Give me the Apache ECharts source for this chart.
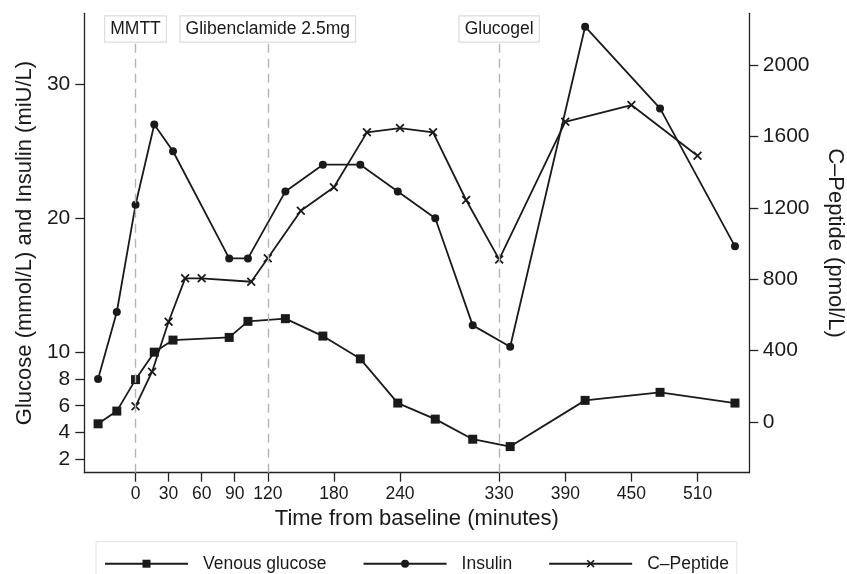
<!DOCTYPE html>
<html>
<head>
<meta charset="utf-8">
<script src="https://cdn.jsdelivr.net/npm/echarts@6/dist/echarts.min.js"></script>
<style>
  html, body { margin: 0; padding: 0; background: #fff; }
  #chart { width: 847px; height: 574px; }
</style>
</head>
<body>
<div id="chart"></div>
<script>
// ---- Data ----
const sampleTimes   = [-34, -17, 0, 17, 34, 85, 102, 136, 170, 204, 238, 272, 306, 340, 408, 476, 544];
const venousGlucose = [4.65, 5.6, 7.95, 10.0, 10.9, 11.1, 12.3, 12.5, 11.2, 9.5, 6.2, 5.0, 3.5, 2.95, 6.4, 7.0, 6.2];
const insulin       = [8.0, 13.0, 21.0, 27.0, 25.0, 17.0, 17.0, 22.0, 24.0, 24.0, 22.0, 20.0, 12.0, 10.4, 34.3, 28.2, 17.9];
const cPeptideTimes = [0, 15, 30, 45, 60, 105, 120, 150, 180, 210, 240, 270, 300, 330, 390, 450, 510];
const cPeptide      = [88, 282, 562, 805, 805, 786, 917, 1184, 1315, 1623, 1647, 1623, 1244, 911, 1682, 1776, 1492];

const xTickLabels     = [0, 30, 60, 90, 120, 180, 240, 330, 390, 450, 510];
const leftTickLabels  = [2, 4, 6, 8, 10, 20, 30];
const rightTickLabels = [0, 400, 800, 1200, 1600, 2000];

const eventTimes  = [0, 120, 330];
const eventLabels = ['MMTT', 'Glibenclamide 2.5mg', 'Glucogel'];

const seriesNames = ['Venous glucose', 'Insulin', 'C\u2013Peptide'];

// ---- Styling ----
const FONT = '"Liberation Sans", Arial, Helvetica, sans-serif';
const INK = '#1a1a1a';
const AXIS = '#222';
const crossPath = 'path://M0,1.4L1.4,0L5,3.6L8.6,0L10,1.4L6.4,5L10,8.6L8.6,10L5,6.4L1.4,10L0,8.6L3.6,5Z';
const annotationLineTop = 33.2; // in left-axis units, bottom of annotation boxes

function pairs(xs, ys) { return xs.map((x, i) => [x, ys[i]]); }
const plain = v => String(v);

const chart = echarts.init(document.getElementById('chart'), null, { renderer: 'canvas' });

const axisCommon = {
  axisLine: { show: true, onZero: false, lineStyle: { color: AXIS, width: 1.3 } },
  axisTick: { show: true, inside: false, length: 9, lineStyle: { color: AXIS, width: 1.3 } },
  splitLine: { show: false },
  nameLocation: 'middle',
  nameTextStyle: { fontFamily: FONT, fontSize: 22, color: INK }
};

const option = {
  backgroundColor: '#fff',
  animation: false,
  textStyle: { fontFamily: FONT, color: INK },
  grid: { left: 84.3, right: 97.7, top: 13.3, bottom: 101.3, containLabel: false, outerBoundsMode: 'none' },
  xAxis: Object.assign({}, axisCommon, {
    type: 'value',
    min: -46.5, max: 557,
    name: 'Time from baseline (minutes)',
    nameGap: 31,
    axisTick: Object.assign({}, axisCommon.axisTick, { customValues: xTickLabels }),
    axisLabel: { customValues: xTickLabels, formatter: plain, fontFamily: FONT, fontSize: 17.5, color: INK, margin: 12 }
  }),
  yAxis: [
    Object.assign({}, axisCommon, {
      type: 'value', position: 'left',
      min: 1.0, max: 35.3,
      name: 'Glucose (mmol/L) and Insulin (miU/L)',
      nameGap: 47,
      axisTick: Object.assign({}, axisCommon.axisTick, { customValues: leftTickLabels }),
      axisLabel: { customValues: leftTickLabels, formatter: plain, fontFamily: FONT, fontSize: 21, color: INK, margin: 14 }
    }),
    Object.assign({}, axisCommon, {
      type: 'value', position: 'right',
      min: -284, max: 2290,
      name: 'C\u2013Peptide (pmol/L)',
      nameRotate: -90,
      nameGap: 75,
      axisTick: Object.assign({}, axisCommon.axisTick, { customValues: rightTickLabels }),
      axisLabel: { customValues: rightTickLabels, formatter: plain, fontFamily: FONT, fontSize: 21, color: INK, margin: 13.5 }
    })
  ],
  legend: {
    data: seriesNames,
    left: 96, top: 541.7,
    orient: 'horizontal',
    padding: [13, 8, 13, 8],
    borderColor: '#e3e3e3', borderWidth: 1,
    backgroundColor: '#fff',
    itemWidth: 83, itemHeight: 10,
    itemGap: 36,
    textStyle: { fontFamily: FONT, fontSize: 17.5, color: INK, padding: [0, 0, 0, 10] }
  },
  series: [
    {
      name: seriesNames[0], type: 'line', yAxisIndex: 0,
      data: pairs(sampleTimes, venousGlucose),
      symbol: 'rect', symbolSize: 9,
      lineStyle: { color: INK, width: 1.8 },
      itemStyle: { color: INK },
      z: 3
    },
    {
      name: seriesNames[1], type: 'line', yAxisIndex: 0,
      data: pairs(sampleTimes, insulin),
      symbol: 'circle', symbolSize: 8,
      lineStyle: { color: INK, width: 1.8 },
      itemStyle: { color: INK },
      z: 3
    },
    {
      name: seriesNames[2], type: 'line', yAxisIndex: 1,
      data: pairs(cPeptideTimes, cPeptide),
      symbol: crossPath, symbolSize: 9,
      lineStyle: { color: INK, width: 1.8 },
      itemStyle: { color: INK },
      z: 3
    },
    {
      name: 'events', type: 'line', yAxisIndex: 0,
      data: [],
      z: 1,
      markLine: {
        silent: true,
        symbol: ['none', 'none'],
        animation: false,
        lineStyle: { color: '#b5b5b5', width: 1.4, type: [9, 6] },
        label: {
          show: true, position: 'end', distance: 0,
          fontFamily: FONT, fontSize: 17.5, color: INK,
          backgroundColor: '#fff', borderColor: '#dcdcdc', borderWidth: 1.2,
          padding: [4, 5, 3, 5],
          formatter: p => p.name
        },
        data: eventTimes.map((t, i) => [
          { name: eventLabels[i], coord: [t, 1.0] },
          { coord: [t, annotationLineTop] }
        ])
      }
    }
  ]
};

chart.setOption(option);
</script>
</body>
</html>
